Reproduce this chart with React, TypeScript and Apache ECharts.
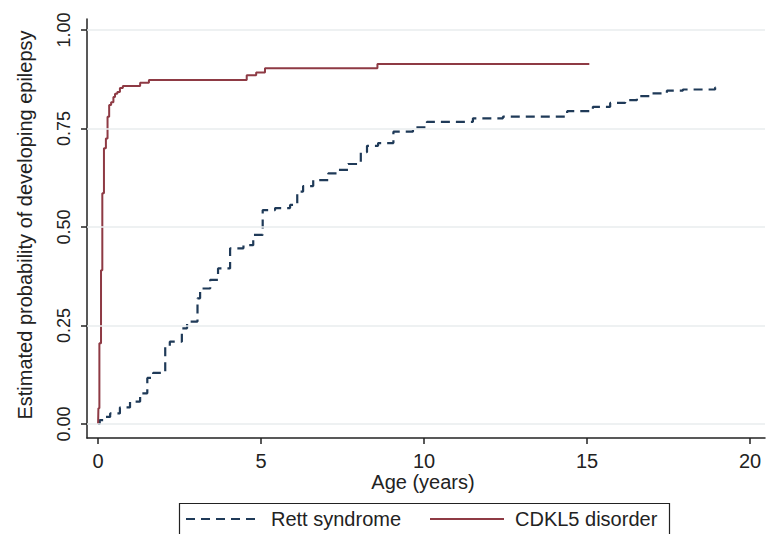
import React, { useEffect, useRef } from "react";
import * as echarts from "echarts";

// Kaplan-Meier style cumulative probability curves
const rettAges = [0, 0.05, 0.2, 0.37, 0.67, 0.98, 1.29, 1.51, 1.69, 2.06, 2.2, 2.57, 2.73, 3.05, 3.13, 3.44, 3.68, 4.05, 4.46, 4.76, 5.05, 5.43, 5.89, 6.11, 6.29, 6.6, 7.06, 7.33, 7.67, 8.06, 8.25, 8.59, 9.06, 9.66, 10.09, 11.5, 12.42, 14.39, 15.18, 15.71, 16.17, 16.53, 16.99, 17.45, 17.94, 18.93, 19.08];
const rettProb = [0, 0.01, 0.018, 0.027, 0.042, 0.057, 0.078, 0.117, 0.13, 0.198, 0.209, 0.243, 0.26, 0.319, 0.344, 0.366, 0.395, 0.446, 0.454, 0.48, 0.543, 0.548, 0.556, 0.59, 0.604, 0.619, 0.636, 0.645, 0.66, 0.69, 0.706, 0.713, 0.742, 0.753, 0.767, 0.776, 0.78, 0.794, 0.805, 0.815, 0.822, 0.832, 0.839, 0.846, 0.849, 0.854, 0.854];

const cdklAges = [0, 0.01, 0.04, 0.09, 0.13, 0.18, 0.24, 0.29, 0.34, 0.4, 0.47, 0.52, 0.59, 0.67, 0.76, 1.29, 1.56, 4.56, 4.85, 5.12, 8.57, 15.07];
const cdklProb = [0, 0.04, 0.205, 0.39, 0.586, 0.7, 0.725, 0.78, 0.81, 0.817, 0.83, 0.838, 0.843, 0.853, 0.858, 0.866, 0.873, 0.885, 0.892, 0.903, 0.914, 0.914];

const seriesNames = ["Rett syndrome", "CDKL5 disorder"];
const xTicks = [0, 5, 10, 15, 20];
const yTicks = [0, 0.25, 0.5, 0.75, 1];
const xTitle = "Age (years)";
const yTitle = "Estimated probability of developing epilepsy";

const RETT_COLOR = "#1f3a58";
const CDKL_COLOR = "#8e3a44";
const FONT = "Liberation Sans, Arial, sans-serif";

export default function App() {
  const ref = useRef<HTMLDivElement>(null);

  useEffect(() => {
    if (!ref.current) return;
    const chart = echarts.init(ref.current, undefined, { renderer: "svg" });
    const rett = rettAges.map((a, i) => [a, rettProb[i]]);
    const cdkl = cdklAges.map((a, i) => [a, cdklProb[i]]);

    chart.setOption({
      animation: false,
      backgroundColor: "#ffffff",
      grid: { left: 87, top: 19, right: 1, bottom: 96, containLabel: false },
      xAxis: {
        type: "value",
        min: -0.34,
        max: 20.46,
        axisLine: { show: true, onZero: false, lineStyle: { color: "#222", width: 1.5 } },
        axisTick: { show: true, length: 6, customValues: xTicks, lineStyle: { color: "#222", width: 1.5 } },
        axisLabel: {
          customValues: xTicks,
          margin: 13,
          fontSize: 20,
          fontFamily: FONT,
          color: "#222",
        },
        splitLine: { show: false },
      },
      yAxis: {
        type: "value",
        min: -0.0355,
        max: 1.028,
        axisLine: { show: true, onZero: false, lineStyle: { color: "#222", width: 1.5 } },
        axisTick: { show: true, length: 6, customValues: yTicks, lineStyle: { color: "#222", width: 1.5 } },
        axisLabel: {
          customValues: yTicks,
          rotate: 90,
          margin: 14,
          fontSize: 18,
          fontFamily: FONT,
          color: "#222",
          formatter: (v: number) => v.toFixed(2),
        },
        splitLine: { show: false },
      },
      series: [
        {
          name: "grid",
          type: "line",
          data: [],
          z: 1,
          silent: true,
          markLine: {
            silent: true,
            symbol: "none",
            label: { show: false },
            lineStyle: { color: "#e8ecee", width: 1.5, type: "solid" },
            emphasis: { disabled: true },
            data: yTicks.map((v) => ({ yAxis: v })),
          },
        },
        {
          name: seriesNames[0],
          type: "line",
          step: "end",
          data: rett,
          showSymbol: false,
          symbol: "none",
          z: 3,
          lineStyle: { color: RETT_COLOR, width: 2.2, type: [9, 6] },
        },
        {
          name: seriesNames[1],
          type: "line",
          step: "end",
          data: cdkl,
          showSymbol: false,
          symbol: "none",
          z: 4,
          lineStyle: { color: CDKL_COLOR, width: 2 },
        },
      ],
      graphic: [
        {
          type: "text",
          x: 25,
          y: 225,
          rotation: Math.PI / 2,
          style: {
            text: yTitle,
            fontSize: 20,
            fontFamily: FONT,
            fill: "#222",
            align: "center",
            verticalAlign: "middle",
            textAlign: "center",
            textVerticalAlign: "middle",
          },
        },
        {
          type: "text",
          x: 423,
          y: 482,
          style: {
            text: xTitle,
            fontSize: 20,
            fontFamily: FONT,
            fill: "#222",
            align: "center",
            verticalAlign: "middle",
            textAlign: "center",
            textVerticalAlign: "middle",
          },
        },
        {
          type: "rect",
          shape: { x: 179.5, y: 503.5, width: 490, height: 60 },
          style: { fill: "#fff", stroke: "#222", lineWidth: 1.2 },
        },
        {
          type: "line",
          shape: { x1: 186, y1: 519, x2: 260, y2: 519 },
          style: { stroke: RETT_COLOR, lineWidth: 2, lineDash: [9, 6] },
        },
        {
          type: "text",
          x: 271,
          y: 519,
          style: {
            text: seriesNames[0],
            fontSize: 20,
            fontFamily: FONT,
            fill: "#222",
            align: "left",
            verticalAlign: "middle",
            textAlign: "left",
            textVerticalAlign: "middle",
          },
        },
        {
          type: "line",
          shape: { x1: 430, y1: 519, x2: 504, y2: 519 },
          style: { stroke: CDKL_COLOR, lineWidth: 2 },
        },
        {
          type: "text",
          x: 515,
          y: 519,
          style: {
            text: seriesNames[1],
            fontSize: 20,
            fontFamily: FONT,
            fill: "#222",
            align: "left",
            verticalAlign: "middle",
            textAlign: "left",
            textVerticalAlign: "middle",
          },
        },
      ],
    });

    return () => chart.dispose();
  }, []);

  return (
    <div
      ref={ref}
      style={{ position: "fixed", left: 0, top: 0, width: 766, height: 534 }}
    />
  );
}
